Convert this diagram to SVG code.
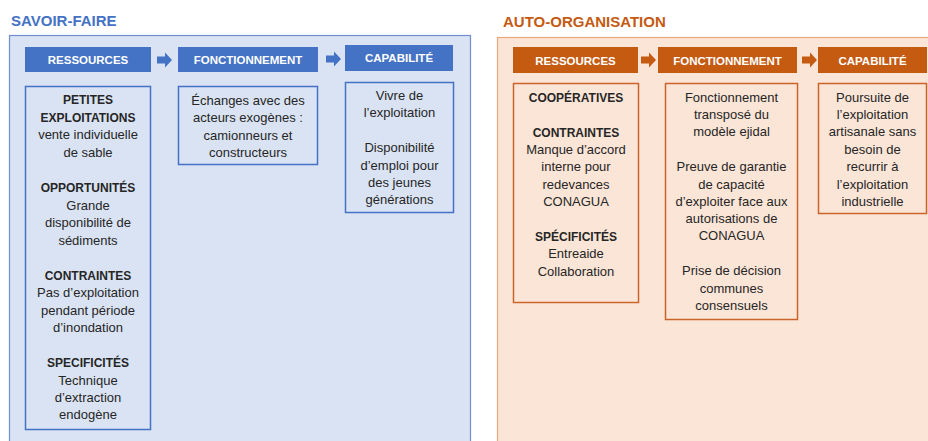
<svg xmlns="http://www.w3.org/2000/svg" xmlns:xlink="http://www.w3.org/1999/xlink" width="928" height="441" viewBox="0 0 928 441">
  <defs>
    <style>
      text { font-family: "Liberation Sans", Arial, sans-serif; fill: #262626; text-anchor: middle; }
      .title { font-size: 15px; font-weight: bold; text-anchor: start; }
      .hd { font-size: 11.5px; font-weight: bold; fill: #ffffff; }
      .b { font-size: 12px; font-weight: bold; }
      .t { font-size: 13px; }
      .blue-hd { fill: #4472c4; }
      .blue-box { fill: none; stroke: #4472c4; stroke-width: 1.5; }
      .org-hd { fill: #c55a11; }
      .org-box { fill: none; stroke: #c9652a; stroke-width: 1.5; }
    </style>
    <!-- small block arrow between header boxes -->
    <path id="blockArrow" d="M0,-3.5 H8 V-7.5 L15,0 L8,7.5 V3.5 H0 Z"/>
  </defs>

  <!-- SAVOIR-FAIRE panel -->
  <g id="panel-savoir-faire">
    <rect x="9.5" y="35.5" width="461" height="420" fill="#dae3f3" stroke="#6f8fcf" stroke-width="1.2"/>
    <text class="title" x="11" y="26" style="fill:#4472c4">SAVOIR-FAIRE</text>
  </g>

  <!-- AUTO-ORGANISATION panel -->
  <g id="panel-auto-organisation">
    <rect x="497.5" y="37.5" width="450" height="420" fill="#fbe5d6" stroke="#eda679" stroke-width="1.2"/>
    <text class="title" x="503" y="27" style="fill:#c55a11">AUTO-ORGANISATION</text>
  </g>

  <!-- connectors -->
  <g id="connectors">
    <use xlink:href="#blockArrow" x="157" y="60" fill="#4472c4"/>
    <use xlink:href="#blockArrow" x="326" y="59" fill="#4472c4"/>
    <use xlink:href="#blockArrow" x="641" y="60" fill="#c55a11"/>
    <use xlink:href="#blockArrow" x="802" y="60" fill="#c55a11"/>
  </g>

  <!-- SAVOIR-FAIRE headers -->
  <g id="sf-ressources-hd">
    <rect class="blue-hd" x="25" y="47" width="126" height="25"/>
    <text class="hd" x="88" y="64">RESSOURCES</text>
  </g>
  <g id="sf-fonctionnement-hd">
    <rect class="blue-hd" x="178" y="47" width="140" height="25"/>
    <text class="hd" x="248" y="64">FONCTIONNEMENT</text>
  </g>
  <g id="sf-capabilite-hd">
    <rect class="blue-hd" x="345" y="45" width="108" height="26"/>
    <text class="hd" x="399" y="62">CAPABILITÉ</text>
  </g>

  <!-- SAVOIR-FAIRE contents -->
  <g id="sf-ressources">
    <rect class="blue-box" x="25.5" y="86.5" width="125" height="343"/>
    <text class="b" x="88" y="104">PETITES</text>
    <text class="b" x="88" y="121.5">EXPLOITATIONS</text>
    <text class="t" x="88" y="139">vente individuelle</text>
    <text class="t" x="88" y="157">de sable</text>
    <text class="b" x="88" y="192">OPPORTUNITÉS</text>
    <text class="t" x="88" y="209.5">Grande</text>
    <text class="t" x="88" y="227">disponibilité de</text>
    <text class="t" x="88" y="244.5">sédiments</text>
    <text class="b" x="88" y="279.5">CONTRAINTES</text>
    <text class="t" x="88" y="297">Pas d’exploitation</text>
    <text class="t" x="88" y="314.5">pendant période</text>
    <text class="t" x="88" y="332">d’inondation</text>
    <text class="b" x="88" y="367">SPECIFICITÉS</text>
    <text class="t" x="88" y="384.5">Technique</text>
    <text class="t" x="88" y="401.5">d’extraction</text>
    <text class="t" x="88" y="419">endogène</text>
  </g>
  <g id="sf-fonctionnement">
    <rect class="blue-box" x="178.5" y="86.5" width="139" height="78"/>
    <text class="t" x="248" y="104.5">Échanges avec des</text>
    <text class="t" x="248" y="122">acteurs exogènes :</text>
    <text class="t" x="248" y="139.5">camionneurs et</text>
    <text class="t" x="248" y="157">constructeurs</text>
  </g>
  <g id="sf-capabilite">
    <rect class="blue-box" x="345.5" y="82.5" width="108" height="130"/>
    <text class="t" x="399.5" y="99.5">Vivre de</text>
    <text class="t" x="399.5" y="117">l’exploitation</text>
    <text class="t" x="399.5" y="152">Disponibilité</text>
    <text class="t" x="399.5" y="169.5">d’emploi pour</text>
    <text class="t" x="399.5" y="187">des jeunes</text>
    <text class="t" x="399.5" y="204">générations</text>
  </g>

  <!-- AUTO-ORGANISATION headers -->
  <g id="ao-ressources-hd">
    <rect class="org-hd" x="513" y="47" width="125" height="26"/>
    <text class="hd" x="575.5" y="64.5">RESSOURCES</text>
  </g>
  <g id="ao-fonctionnement-hd">
    <rect class="org-hd" x="658" y="47" width="139" height="26"/>
    <text class="hd" x="727.5" y="64.5">FONCTIONNEMENT</text>
  </g>
  <g id="ao-capabilite-hd">
    <rect class="org-hd" x="818" y="47" width="109" height="26"/>
    <text class="hd" x="872.5" y="64.5">CAPABILITÉ</text>
  </g>

  <!-- AUTO-ORGANISATION contents -->
  <g id="ao-ressources">
    <rect class="org-box" x="513.5" y="83.5" width="125" height="219"/>
    <text class="b" x="576" y="102">COOPÉRATIVES</text>
    <text class="b" x="576" y="136.5">CONTRAINTES</text>
    <text class="t" x="576" y="153.5">Manque d’accord</text>
    <text class="t" x="576" y="171">interne pour</text>
    <text class="t" x="576" y="188.5">redevances</text>
    <text class="t" x="576" y="205.5">CONAGUA</text>
    <text class="b" x="576" y="240.5">SPÉCIFICITÉS</text>
    <text class="t" x="576" y="257.5">Entreaide</text>
    <text class="t" x="576" y="275.5">Collaboration</text>
  </g>
  <g id="ao-fonctionnement">
    <rect class="org-box" x="665.5" y="83.5" width="132" height="236"/>
    <text class="t" x="731.5" y="101.5">Fonctionnement</text>
    <text class="t" x="731.5" y="119">transposé du</text>
    <text class="t" x="731.5" y="136">modèle ejidal</text>
    <text class="t" x="731.5" y="171">Preuve de garantie</text>
    <text class="t" x="731.5" y="188.5">de capacité</text>
    <text class="t" x="731.5" y="205.5">d’exploiter face aux</text>
    <text class="t" x="731.5" y="222.5">autorisations de</text>
    <text class="t" x="731.5" y="240">CONAGUA</text>
    <text class="t" x="731.5" y="275">Prise de décision</text>
    <text class="t" x="731.5" y="292.5">communes</text>
    <text class="t" x="731.5" y="310">consensuels</text>
  </g>
  <g id="ao-capabilite">
    <rect class="org-box" x="818.5" y="83.5" width="108" height="130"/>
    <text class="t" x="872.5" y="101.5">Poursuite de</text>
    <text class="t" x="872.5" y="119">l’exploitation</text>
    <text class="t" x="872.5" y="136">artisanale sans</text>
    <text class="t" x="872.5" y="153.5">besoin de</text>
    <text class="t" x="872.5" y="171">recurrir à</text>
    <text class="t" x="872.5" y="188.5">l’exploitation</text>
    <text class="t" x="872.5" y="205.5">industrielle</text>
  </g>
</svg>
